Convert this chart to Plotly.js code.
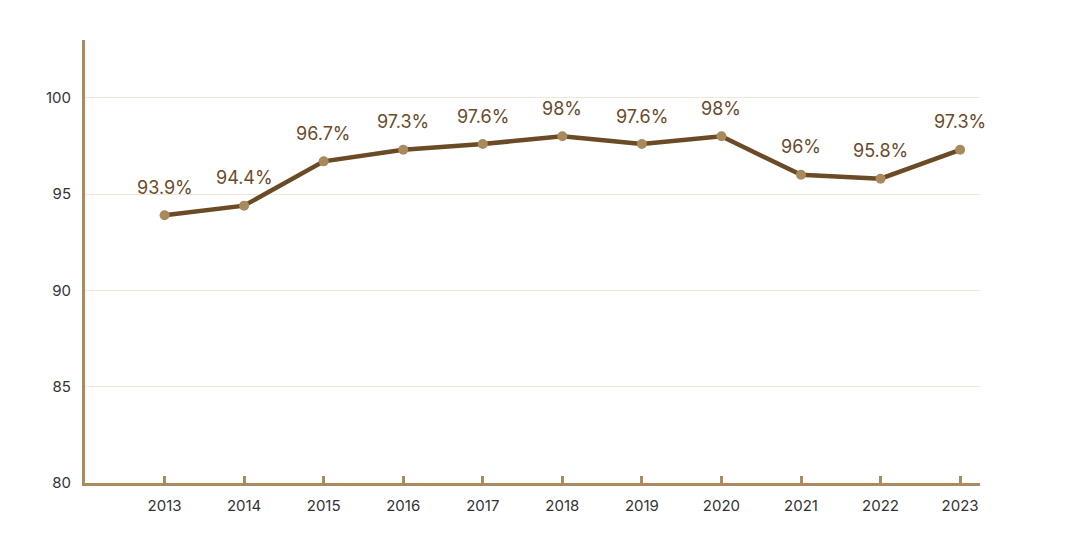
<!DOCTYPE html>
<html><head><meta charset="utf-8">
<script src="https://cdn.plot.ly/plotly-3.0.1.min.js"></script>
<style>html,body{margin:0;padding:0;background:#fff}#c{width:1080px;height:540px}</style>
</head><body><div id="c"></div>
<script>
const years = ['2013','2014','2015','2016','2017','2018','2019','2020','2021','2022','2023'];
const values = [93.9, 94.4, 96.7, 97.3, 97.6, 98, 97.6, 98, 96, 95.8, 97.3];
const labels = ['93.9%','94.4%','96.7%','97.3%','97.6%','98%','97.6%','98%','96%','95.8%','97.3%'];

const trace = {
  x: years, y: values, type: 'scatter', mode: 'lines+markers',
  line: {color: '#6b4a26', width: 4.5},
  marker: {color: '#a98a5c', size: 10},
  hoverinfo: 'skip'
};
const annotations = years.map((yr, i) => ({
  x: i, y: values[i], xref: 'x', yref: 'y', text: labels[i], showarrow: false,
  yshift: 28, font: {family: 'Inter, "Liberation Sans", sans-serif', size: 18, color: '#6b4a2a'}
}));
const layout = {
  width: 1080, height: 540,
  margin: {l: 85, r: 100, t: 40, b: 57},
  paper_bgcolor: '#fff', plot_bgcolor: '#fff',
  showlegend: false,
  font: {family: 'Inter, "Liberation Sans", sans-serif', size: 15, color: '#333'},
  xaxis: {
    type: 'category', range: [-1, 10.25],
    showgrid: false, zeroline: false,
    showline: true, linecolor: '#aa8b5f', linewidth: 3,
    ticks: 'inside', ticklen: 7, tickwidth: 3, tickcolor: '#aa8b5f',
    tickfont: {size: 15, color: '#333'}, ticklabelstandoff: 7
  },
  yaxis: {
    range: [80, 103], tickvals: [80, 85, 90, 95, 100],
    showgrid: true, gridcolor: '#efe8da', gridwidth: 1,
    zeroline: false, showline: true, linecolor: '#aa8b5f', linewidth: 3,
    ticks: '', tickfont: {size: 15, color: '#333'}, ticklabelstandoff: 8
  },
  annotations: annotations
};
Plotly.newPlot('c', [trace], layout, {displayModeBar: false, staticPlot: true});
</script></body></html>
